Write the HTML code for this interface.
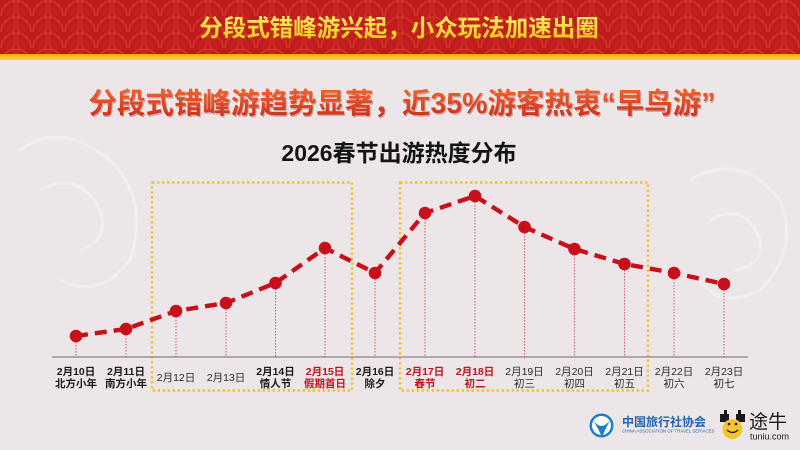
<!DOCTYPE html>
<html><head><meta charset="utf-8">
<style>
html,body{margin:0;padding:0;width:800px;height:450px;overflow:hidden;background:#ede6e8;}
svg{display:block;}
text{font-family:"Liberation Sans","Noto Sans CJK SC",sans-serif;}
</style></head>
<body>
<svg width="800" height="450" viewBox="0 0 800 450" xmlns="http://www.w3.org/2000/svg">
<defs>
<pattern id="sc" x="0" y="0" width="32" height="16" patternUnits="userSpaceOnUse">
<circle cx="16" cy="16" r="15" fill="none" stroke="#d9402a" stroke-width="1.3" opacity="0.75"/>
<circle cx="0" cy="8" r="15" fill="none" stroke="#d9402a" stroke-width="1.3" opacity="0.55"/>
<circle cx="32" cy="8" r="15" fill="none" stroke="#d9402a" stroke-width="1.3" opacity="0.55"/>
</pattern>
<linearGradient id="yb" x1="0" y1="0" x2="0" y2="1">
<stop offset="0" stop-color="#f5a818"/><stop offset="1" stop-color="#fdd23c"/>
</linearGradient>
<linearGradient id="sub" x1="0" y1="0" x2="0" y2="1">
<stop offset="0" stop-color="#f2652c"/><stop offset="1" stop-color="#c92a1c"/>
</linearGradient>
<linearGradient id="ht" x1="0" y1="0" x2="0" y2="1">
<stop offset="0" stop-color="#fff06a"/><stop offset="1" stop-color="#f9c21c"/>
</linearGradient>
</defs>

<!-- background -->
<rect x="0" y="0" width="800" height="450" fill="#ede6e8"/>
<!-- faint decorative shapes -->
<g fill="none" stroke="#f4f0f1" stroke-width="3" opacity="0.8">
<path d="M20 150 Q60 120 110 160 Q150 200 130 260 Q100 300 60 280"/>
<path d="M40 190 Q80 170 100 210 Q110 240 80 250"/>
<path d="M690 180 Q740 150 780 200 Q800 250 760 290 Q720 310 700 280"/>
<path d="M710 220 Q745 200 760 240 Q765 265 735 270"/>
</g>

<!-- header -->
<rect x="0" y="0" width="800" height="54" fill="#c21d1e"/>
<rect x="0" y="0" width="800" height="54" fill="url(#sc)"/>
<rect x="0" y="54" width="800" height="6" fill="url(#yb)"/>
<text x="399" y="36" text-anchor="middle" font-size="23.5" font-weight="bold" fill="#b5360e" opacity="0.8" transform="translate(1,1.5)">分段式错峰游兴起，小众玩法加速出圈</text>
<text x="399" y="36" text-anchor="middle" font-size="23.5" font-weight="bold" fill="url(#ht)">分段式错峰游兴起，小众玩法加速出圈</text>

<!-- subtitle -->
<text x="402" y="113" text-anchor="middle" font-size="28.5" font-weight="bold" fill="#9a2a1a" opacity="0.35" transform="translate(1,1.5)">分段式错峰游趋势显著，近35%游客热衷“早鸟游”</text>
<text x="402" y="113" text-anchor="middle" font-size="28.5" font-weight="bold" fill="url(#sub)">分段式错峰游趋势显著，近35%游客热衷“早鸟游”</text>

<!-- chart title -->
<text x="399" y="161" text-anchor="middle" font-size="23" font-weight="bold" fill="#141414">2026春节出游热度分布</text>

<!-- dotted boxes -->
<g fill="none" stroke="#f2c12e" stroke-width="2.4" stroke-dasharray="2.4 2.6">
<rect x="152" y="182.5" width="200" height="208"/>
<rect x="400" y="182.5" width="248" height="208"/>
</g>

<!-- axis -->
<line x1="52" y1="357" x2="748" y2="357" stroke="#8a8486" stroke-width="1.3"/>

<!-- drop lines -->
<g stroke="#c8333a" stroke-width="0.9" stroke-dasharray="1.5 1.5" opacity="0.85">
<line x1="76" y1="336" x2="76" y2="357"/>
<line x1="126" y1="329" x2="126" y2="357"/>
<line x1="176" y1="311" x2="176" y2="357"/>
<line x1="226" y1="303" x2="226" y2="357"/>
<line x1="275.5" y1="283" x2="275.5" y2="357"/>
<line x1="325" y1="248" x2="325" y2="357"/>
<line x1="375" y1="273" x2="375" y2="357"/>
<line x1="425" y1="213" x2="425" y2="357"/>
<line x1="475" y1="196" x2="475" y2="357"/>
<line x1="524.5" y1="227" x2="524.5" y2="357"/>
<line x1="574.5" y1="249" x2="574.5" y2="357"/>
<line x1="624.5" y1="264" x2="624.5" y2="357"/>
<line x1="674" y1="273" x2="674" y2="357"/>
<line x1="724" y1="284" x2="724" y2="357"/>
</g>

<!-- series line -->
<polyline fill="none" stroke="#c8101a" stroke-width="4.4" stroke-dasharray="12 7" stroke-linejoin="round"
points="76,336 126,329 176,311 226,303 275.5,283 325,248 375,273 425,213 475,196 524.5,227 574.5,249 624.5,264 674,273 724,284"/>
<g fill="#c8101a">
<circle cx="76" cy="336" r="6.3"/>
<circle cx="126" cy="329" r="6.3"/>
<circle cx="176" cy="311" r="6.3"/>
<circle cx="226" cy="303" r="6.3"/>
<circle cx="275.5" cy="283" r="6.3"/>
<circle cx="325" cy="248" r="6.3"/>
<circle cx="375" cy="273" r="6.3"/>
<circle cx="425" cy="213" r="6.3"/>
<circle cx="475" cy="196" r="6.3"/>
<circle cx="524.5" cy="227" r="6.3"/>
<circle cx="574.5" cy="249" r="6.3"/>
<circle cx="624.5" cy="264" r="6.3"/>
<circle cx="674" cy="273" r="6.3"/>
<circle cx="724" cy="284" r="6.3"/>
</g>

<!-- labels -->
<g font-size="10.5" text-anchor="middle">
<g font-weight="bold" fill="#1a1a1a">
<text x="76" y="375">2月10日</text><text x="76" y="387">北方小年</text>
<text x="126" y="375">2月11日</text><text x="126" y="387">南方小年</text>
<text x="275.5" y="375">2月14日</text><text x="275.5" y="387">情人节</text>
<text x="375" y="375">2月16日</text><text x="375" y="387">除夕</text>
</g>
<g font-weight="bold" fill="#c0141c">
<text x="325" y="375">2月15日</text><text x="325" y="387">假期首日</text>
<text x="425" y="375">2月17日</text><text x="425" y="387">春节</text>
<text x="475" y="375">2月18日</text><text x="475" y="387">初二</text>
</g>
<g fill="#2a2a2a">
<text x="176" y="381">2月12日</text>
<text x="226" y="381">2月13日</text>
<text x="524.5" y="375">2月19日</text><text x="524.5" y="387">初三</text>
<text x="574.5" y="375">2月20日</text><text x="574.5" y="387">初四</text>
<text x="624.5" y="375">2月21日</text><text x="624.5" y="387">初五</text>
<text x="674" y="375">2月22日</text><text x="674" y="387">初六</text>
<text x="724" y="375">2月23日</text><text x="724" y="387">初七</text>
</g>
</g>

<!-- logos -->
<g>
<circle cx="601.5" cy="425.5" r="12" fill="#1e7fc8"/>
<circle cx="601.5" cy="425.5" r="9.5" fill="#ffffff"/>
<path d="M593 420 Q601.5 432 610 420 Q606 428 602 437 Q598 428 593 420Z" fill="#1e7fc8"/>
<text x="622" y="426" font-size="12" font-weight="bold" fill="#1e63b5">中国旅行社协会</text>
<text x="622" y="432.5" font-size="4.4" fill="#1e63b5">CHINA ASSOCIATION OF TRAVEL SERVICES</text>
<!-- tuniu cow -->
<rect x="720" y="414" width="9" height="8" fill="#1a1a1a"/>
<rect x="736" y="414" width="9" height="8" fill="#1a1a1a"/>
<rect x="724" y="410" width="3" height="5" fill="#1a1a1a"/>
<rect x="738" y="410" width="3" height="5" fill="#1a1a1a"/>
<circle cx="732.5" cy="429" r="10" fill="#f6c52a"/>
<path d="M727 430 Q732.5 435 738 430" fill="none" stroke="#1a1a1a" stroke-width="1.3"/>
<circle cx="729" cy="424" r="1.3" fill="#1a1a1a"/>
<circle cx="736" cy="424" r="1.3" fill="#1a1a1a"/>
<text x="749" y="428" font-size="19" fill="#1a1a1a">途牛</text>
<text x="750" y="439.5" font-size="9" fill="#1a1a1a">tuniu.com</text>
</g>
</svg>
</body></html>
